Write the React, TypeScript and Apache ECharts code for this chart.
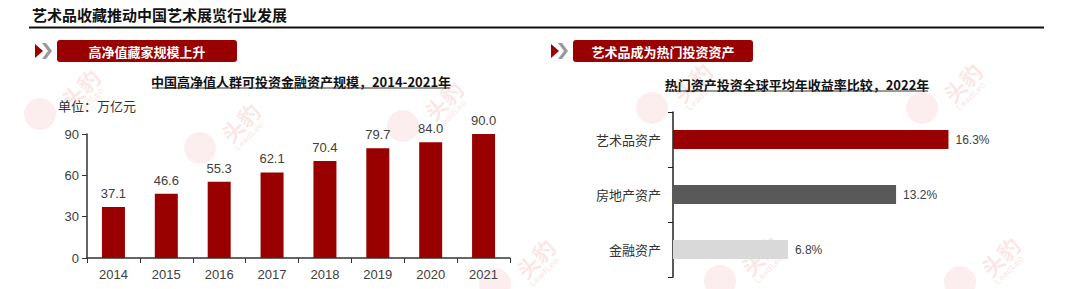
import React, { useEffect, useRef } from "react";
import * as echarts from "echarts";

const years = ["2014", "2015", "2016", "2017", "2018", "2019", "2020", "2021"];
const assetValues = [37.1, 46.6, 55.3, 62.1, 70.4, 79.7, 84.0, 90.0];
const yTicks = { min: 0, max: 90, interval: 30 };

const assetTypes = ["艺术品资产", "房地产资产", "金融资产"];
const returnRates = [16.3, 13.2, 6.8];
const returnColors = ["#990000", "#595959", "#d9d9d9"];

const FONT = "'Liberation Sans', 'Noto Sans CJK SC', sans-serif";
const CJK = "'Noto Sans CJK SC', 'Liberation Sans', sans-serif";
const RED = "#990000";

const watermarkSpots = [
  [80, 88], [240, 122], [443, 100], [692, 82], [962, 82],
  [535, 258], [760, 255], [1000, 256],
];

function watermark(cx: number, cy: number) {
  const rot = Math.PI / 4;
  return [
    {
      type: "circle",
      shape: { cx: cx - 40, cy: cy + 26, r: 16 },
      style: { fill: "rgba(235,120,120,0.13)" },
    },
    {
      type: "text",
      x: cx,
      y: cy,
      rotation: rot,
      style: { text: "头豹", fill: "rgba(230,90,90,0.16)", font: `bold 22px ${CJK}`, align: "center", verticalAlign: "middle" },
    },
    {
      type: "text",
      x: cx + 9,
      y: cy + 14,
      rotation: rot,
      style: { text: "LeadLeo", fill: "rgba(230,90,90,0.14)", font: `bold 9px ${FONT}`, align: "center", verticalAlign: "middle" },
    },
  ];
}

function chevron(x: number, y: number) {
  return [
    {
      type: "polygon",
      shape: { points: [[x, y + 1], [x + 8, y + 8], [x, y + 15]] },
      style: { fill: RED },
    },
    {
      type: "polygon",
      shape: { points: [[x + 7, y], [x + 11, y], [x + 17, y + 8], [x + 11, y + 16], [x + 7, y + 16], [x + 13, y + 8]] },
      style: { fill: "#9a9a9a" },
    },
  ];
}

function header(x: number, y: number, w: number, label: string) {
  return [
    ...chevron(x - 22, y + 3),
    { type: "rect", shape: { x, y, width: w, height: 22, r: 3 }, style: { fill: RED } },
    {
      type: "text",
      x: x + w / 2,
      y: y + 11,
      style: { text: label, fill: "#fff", font: `bold 13px ${CJK}`, align: "center", verticalAlign: "middle" },
    },
  ];
}

function subtitle(cx: number, cy: number, x1: number, x2: number, label: string) {
  return [
    {
      type: "text",
      x: cx,
      y: cy,
      style: { text: label, fill: "#111", font: `bold 13px ${CJK}`, align: "center", verticalAlign: "middle" },
    },
    { type: "line", shape: { x1, y1: cy + 7, x2, y2: cy + 7 }, style: { stroke: "#333", lineWidth: 1 } },
  ];
}

export default function App() {
  const ref = useRef<HTMLDivElement>(null);
  useEffect(() => {
    if (!ref.current) return;
    const chart = echarts.init(ref.current, undefined, { renderer: "svg" });
    chart.setOption({
      animation: false,
      backgroundColor: "#fff",
      grid: [
        { left: 87, top: 134, width: 423, height: 124 },
        { left: 673, top: 112, width: 338, height: 165 },
      ],
      xAxis: [
        {
          gridIndex: 0,
          type: "category",
          data: years,
          axisLine: { lineStyle: { color: "#333", width: 1.5 } },
          axisTick: { show: true, length: 5, lineStyle: { color: "#333" } },
          axisLabel: { color: "#404040", fontSize: 13, fontFamily: FONT, margin: 10 },
        },
        { gridIndex: 1, type: "value", min: 0, max: 20, show: false },
      ],
      yAxis: [
        {
          gridIndex: 0,
          type: "value",
          min: yTicks.min,
          max: yTicks.max,
          interval: yTicks.interval,
          axisLine: { show: true, lineStyle: { color: "#333", width: 1.5 } },
          axisTick: { show: true, length: 5, lineStyle: { color: "#333" } },
          axisLabel: { color: "#404040", fontSize: 13, fontFamily: FONT, margin: 8 },
          splitLine: { show: false },
        },
        {
          gridIndex: 1,
          type: "category",
          data: assetTypes,
          inverse: true,
          axisLine: { show: true, lineStyle: { color: "#222", width: 1.5 } },
          axisTick: { show: true, length: 5, lineStyle: { color: "#222" } },
          axisLabel: { color: "#333", fontSize: 13, fontFamily: CJK, margin: 12 },
        },
      ],
      series: [
        {
          type: "bar",
          xAxisIndex: 0,
          yAxisIndex: 0,
          data: assetValues,
          barWidth: 23,
          itemStyle: { color: RED },
          label: {
            show: true,
            position: "top",
            distance: 7,
            color: "#404040",
            fontSize: 13,
            fontFamily: FONT,
            formatter: (p: any) => Number(p.value).toFixed(1),
          },
        },
        {
          type: "bar",
          xAxisIndex: 1,
          yAxisIndex: 1,
          data: returnRates.map((v, i) => ({ value: v, itemStyle: { color: returnColors[i] } })),
          barWidth: 19,
          label: {
            show: true,
            position: "right",
            distance: 7,
            color: "#404040",
            fontSize: 12,
            fontFamily: FONT,
            formatter: (p: any) => `${Number(p.value).toFixed(1)}%`,
          },
        },
      ],
      graphic: [
        ...watermarkSpots.flatMap(([x, y]) => watermark(x, y)),
        {
          type: "text",
          x: 32,
          y: 14,
          style: { text: "艺术品收藏推动中国艺术展览行业发展", fill: "#111", font: `bold 15px ${CJK}`, verticalAlign: "middle" },
        },
        { type: "line", shape: { x1: 29, y1: 27.5, x2: 1044, y2: 27.5 }, style: { stroke: "#111", lineWidth: 2 } },
        ...header(57, 40, 180, "高净值藏家规模上升"),
        ...header(573, 40, 180, "艺术品成为热门投资资产"),
        ...subtitle(301, 81, 152, 450, "中国高净值人群可投资金融资产规模，2014-2021年"),
        ...subtitle(797, 84, 665, 928, "热门资产投资全球平均年收益率比较，2022年"),
        {
          type: "text",
          x: 58,
          y: 105,
          style: { text: "单位：万亿元", fill: "#333", font: `13px ${CJK}`, verticalAlign: "middle" },
        },
      ],
    });
    return () => chart.dispose();
  }, []);
  return <div ref={ref} style={{ position: "fixed", left: 0, top: 0, width: 1080, height: 289 }} />;
}
